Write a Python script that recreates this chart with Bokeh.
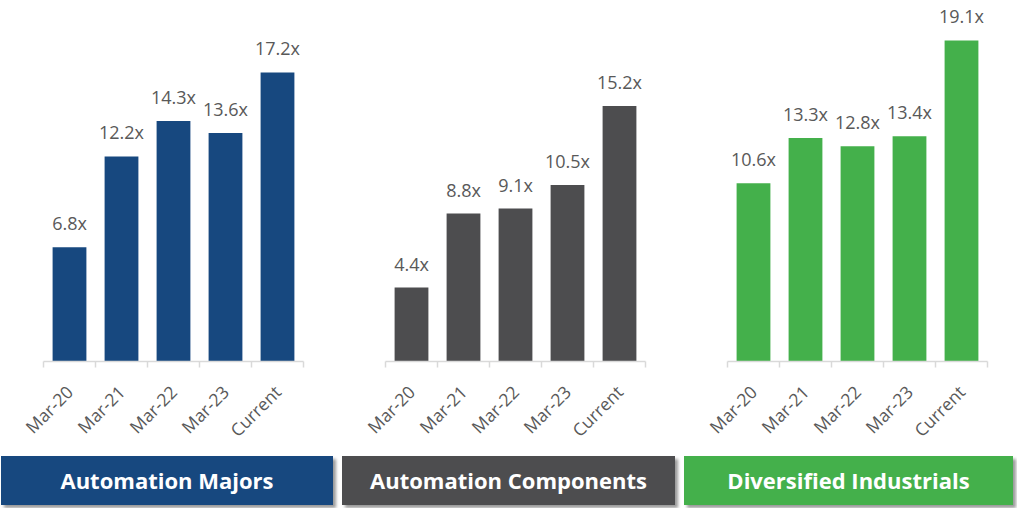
from bokeh.plotting import figure
from bokeh.layouts import row, column
from bokeh.models import (ColumnDataSource, LabelSet, Range1d, FixedTicker, Div)
from bokeh.core.properties import value
from bokeh.embed import file_html
from bokeh.resources import INLINE

periods = ["Mar-20", "Mar-21", "Mar-22", "Mar-23", "Current"]
majors = [6.8, 12.2, 14.3, 13.6, 17.2]
components = [4.4, 8.8, 9.1, 10.5, 15.2]
diversified = [10.6, 13.3, 12.8, 13.4, 19.1]

groups = ["Automation Majors", "Automation Components", "Diversified Industrials"]
series = [majors, components, diversified]
colors = ["#17487F", "#4D4D4F", "#44B04B"]

FONT = "Open Sans"
fig_widths = [342, 342, 333]
left_borders = [43, 43, 43]
banner_widths = [332, 333, 329]
banner_offsets = [1, 0, 0]

cols = []
for i in range(3):
    vals = series[i]
    idx = list(range(len(periods)))
    src = ColumnDataSource(dict(x=idx, top=vals,
                                label=[f"{v:.1f}x" for v in vals]))
    frame_w = 260
    p = figure(width=fig_widths[i], height=456, output_backend="svg",
               toolbar_location=None, x_range=Range1d(-0.5, len(periods) - 0.5),
               y_range=Range1d(0, 21), y_axis_location=None,
               min_border_left=left_borders[i],
               min_border_right=fig_widths[i] - left_borders[i] - frame_w,
               min_border_top=8, min_border_bottom=95)
    p.outline_line_color = None
    p.grid.visible = False
    p.background_fill_color = "white"
    p.border_fill_color = "white"
    p.vbar(x="x", top="top", width=0.65, bottom=0, source=src,
           fill_color=colors[i], line_color=None)
    labels = LabelSet(x="x", y="top", text="label", source=src,
                      text_align="center", text_baseline="alphabetic",
                      y_offset=17, text_font=value(FONT),
                      text_font_size=value("18px"),
                      text_color=value("#595959"))
    p.add_layout(labels)
    ax = p.xaxis[0]
    ax.ticker = FixedTicker(ticks=idx,
                            minor_ticks=[k - 0.5 for k in range(len(periods) + 1)])
    ax.major_label_overrides = {k: periods[k] for k in idx}
    ax.major_tick_line_color = None
    ax.major_tick_out = 0
    ax.major_tick_in = 0
    ax.minor_tick_line_color = "#D9D9D9"
    ax.minor_tick_line_width = 1.5
    ax.minor_tick_out = 6
    ax.minor_tick_in = 0
    ax.axis_line_color = "#D9D9D9"
    ax.axis_line_width = 1.5
    ax.major_label_orientation = 0.785398
    ax.major_label_standoff = 21
    ax.major_label_text_font = FONT
    ax.major_label_text_font_size = "17.5px"
    ax.major_label_text_color = "#595959"

    bw = banner_widths[i]
    html = (f'<div style="width:{bw}px;height:49px;line-height:49px;'
            f'background:{colors[i]};color:white;font-family:\'{FONT}\',sans-serif;'
            f'font-weight:bold;font-size:22px;text-align:center;'
            f'box-shadow:3px 3px 3px #9a9a9a;">{groups[i]}</div>')
    d = Div(text=html, width=bw + 4, height=52, margin=(0, 0, 0, banner_offsets[i]))
    cols.append(column(p, d, spacing=0))

layout = row(*cols, spacing=0)
open("out.html", "w").write(file_html(layout, INLINE))
